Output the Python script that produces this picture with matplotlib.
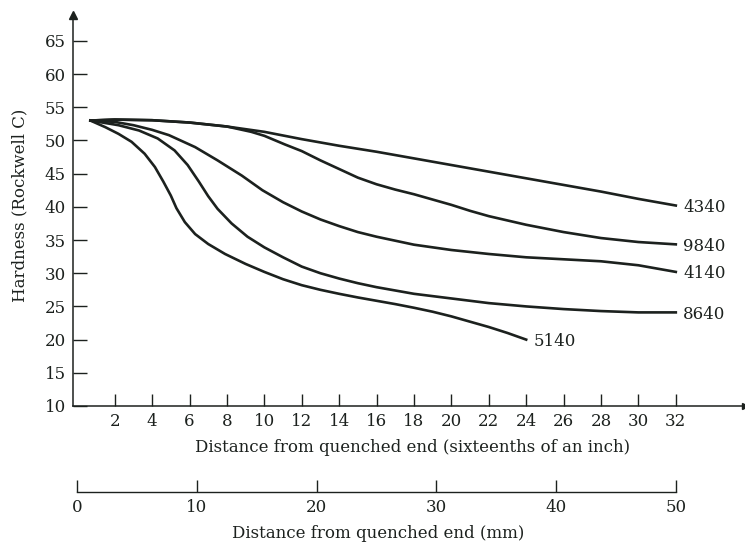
import numpy as np
import matplotlib
matplotlib.use("Agg")
import matplotlib.pyplot as plt

# hardness curves (distance in sixteenths of an inch, Rockwell C)
x_4340 = [0.7, 2, 4, 6, 8, 10, 12, 14, 16, 18, 20, 22, 24, 26, 28, 30, 32]
y_4340 = [53.0, 53.15, 53.05, 52.7, 52.1, 51.3, 50.2, 49.2, 48.3, 47.3, 46.3, 45.3, 44.3, 43.3, 42.3, 41.2, 40.2]

x_9840 = [0.7, 2, 4, 6, 8, 9.3, 10, 11.1, 12, 13, 14, 15, 16, 17, 18, 19, 20, 21, 22, 24, 26, 28, 30, 32]
y_9840 = [53.0, 53.15, 53.05, 52.7, 52.1, 51.3, 50.7, 49.4, 48.4, 47.0, 45.7, 44.4, 43.4, 42.6, 41.9, 41.1, 40.3, 39.4, 38.6, 37.3, 36.2, 35.3, 34.7, 34.35]

x_4140 = [0.7, 2, 3, 4, 4.9, 6.3, 7.5, 8.8, 9.9, 11, 12, 13, 14, 15, 16, 17, 18, 20, 22, 24, 26, 28, 30, 31, 32]
y_4140 = [53.0, 52.8, 52.3, 51.6, 50.8, 49.0, 47.0, 44.7, 42.5, 40.7, 39.3, 38.1, 37.1, 36.2, 35.5, 34.9, 34.3, 33.5, 32.9, 32.4, 32.1, 31.8, 31.2, 30.7, 30.2]

x_8640 = [0.7, 2.2, 3.3, 4.3, 5.2, 5.9, 6.5, 7, 7.5, 8.25, 9.1, 10, 11, 12, 13, 14, 15, 16, 17, 18, 20, 22, 24, 26, 28, 30, 32]
y_8640 = [53.0, 52.3, 51.5, 50.3, 48.5, 46.3, 43.8, 41.6, 39.7, 37.5, 35.5, 33.9, 32.4, 31.0, 30.0, 29.2, 28.5, 27.9, 27.4, 26.9, 26.2, 25.5, 25.0, 24.6, 24.3, 24.1, 24.1]

x_5140 = [0.7, 1.5, 2.2, 2.9, 3.6, 4.15, 4.6, 5.0, 5.3, 5.75, 6.3, 7, 7.9, 9, 10, 11, 12, 13, 14, 15, 16, 17, 18, 19, 20, 21, 22, 23, 24]
y_5140 = [53.0, 52.0, 51.0, 49.8, 48.0, 46.0, 43.8, 41.7, 39.8, 37.7, 35.9, 34.4, 32.9, 31.4, 30.2, 29.1, 28.2, 27.5, 26.9, 26.35, 25.85, 25.35, 24.8, 24.2, 23.5, 22.7, 21.9, 21.0, 20.0]

steels = ["4340", "9840", "4140", "8640", "5140"]
curves = [(x_4340, y_4340), (x_9840, y_9840), (x_4140, y_4140),
          (x_8640, y_8640), (x_5140, y_5140)]

x_ticks = list(range(2, 33, 2))
y_ticks = list(range(10, 66, 5))
mm_ticks = [0, 10, 20, 30, 40, 50]
mm_per_unit = 50 / 32  # scale used on the lower axis

ink = "#1c211e"
fs = 12
plt.rcParams["font.family"] = ["DejaVu Serif"]
plt.rcParams["font.size"] = fs

fig = plt.figure(figsize=(7.45, 5.47), dpi=100)
ax = fig.add_axes([73 / 745, 1 - 406 / 547, 672 / 745, 391 / 547])
ax.set_xlim(-0.23, 35.7)
ax.set_ylim(10, 68.9)

for (xs, ys), name in zip(curves, steels):
    ax.plot(xs, ys, color=ink, lw=1.9, solid_joinstyle="round")
    ax.text(xs[-1] + 0.4, ys[-1] - 0.3, name, ha="left", va="center",
            color=ink, fontsize=fs)

for side in ("top", "right"):
    ax.spines[side].set_visible(False)
for side in ("left", "bottom"):
    ax.spines[side].set_color(ink)
    ax.spines[side].set_linewidth(1.1)

# arrow heads on the axes
ax.plot(1, 0, ">", color=ink, ms=5, transform=ax.transAxes, clip_on=False)
ax.plot(0, 1, "^", color=ink, ms=6, transform=ax.transAxes, clip_on=False)

ax.set_xticks(x_ticks)
ax.set_yticks(y_ticks)
ax.tick_params(axis="x", direction="in", length=8.5, width=1.0, color=ink,
               labelcolor=ink, pad=5, labelsize=fs)
ax.tick_params(axis="y", direction="in", length=10, width=1.0, color=ink,
               labelcolor=ink, pad=5, labelsize=fs)
fig.text(20 / 745, 1 - 205 / 547, "Hardness (Rockwell C)", rotation=90,
         ha="center", va="center", color=ink, fontsize=fs)
fig.text(413 / 745, 1 - 447 / 547, "Distance from quenched end (sixteenths of an inch)",
         ha="center", va="center", color=ink, fontsize=fs)

# lower axis in millimetres
sec = ax.secondary_xaxis((406 - 492) / 391,
                         functions=(lambda v: v * mm_per_unit, lambda v: v / mm_per_unit))
sec.set_xticks(mm_ticks)
sec.spines["bottom"].set_bounds(0, 50)
sec.spines["bottom"].set_color(ink)
sec.spines["bottom"].set_linewidth(1.0)
sec.tick_params(axis="x", direction="in", length=8.5, width=1.0, color=ink,
                labelcolor=ink, pad=5, labelsize=fs)
fig.text(378 / 745, 1 - 533 / 547, "Distance from quenched end (mm)",
         ha="center", va="center", color=ink, fontsize=fs)

fig.savefig("out.png", dpi=100, facecolor="white")
